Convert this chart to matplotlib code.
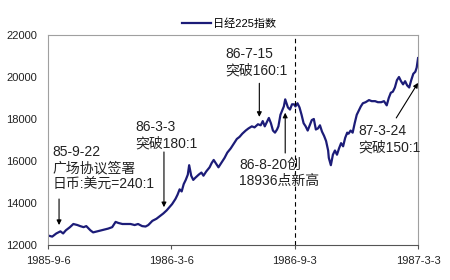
import numpy as np
import pandas as pd
import matplotlib
matplotlib.use("Agg")
import matplotlib.pyplot as plt

plt.rcParams['font.family'] = ['Liberation Sans', 'Noto Sans CJK SC', 'DejaVu Sans']

# Nikkei 225
dates = ['1985-09-06', '1985-09-12', '1985-09-18', '1985-09-24', '1985-09-28', '1985-10-02',
         '1985-10-08', '1985-10-13', '1985-10-19', '1985-10-23', '1985-10-28', '1985-11-01',
         '1985-11-07', '1985-11-11', '1985-11-17', '1985-11-23', '1985-11-29', '1985-12-03',
         '1985-12-09', '1985-12-14', '1985-12-18', '1985-12-24', '1985-12-30', '1986-01-05',
         '1986-01-11', '1986-01-16', '1986-01-22', '1986-01-27', '1986-01-31', '1986-02-06',
         '1986-02-12', '1986-02-18', '1986-02-22', '1986-02-27', '1986-03-03', '1986-03-07',
         '1986-03-12', '1986-03-15', '1986-03-18', '1986-03-21', '1986-03-24', '1986-03-27',
         '1986-03-30', '1986-04-01', '1986-04-04', '1986-04-07', '1986-04-10', '1986-04-15',
         '1986-04-19', '1986-04-22', '1986-04-26', '1986-05-01', '1986-05-04', '1986-05-07',
         '1986-05-10', '1986-05-14', '1986-05-19', '1986-05-23', '1986-05-27', '1986-06-01',
         '1986-06-05', '1986-06-10', '1986-06-14', '1986-06-18', '1986-06-23', '1986-06-27',
         '1986-07-02', '1986-07-06', '1986-07-11', '1986-07-15', '1986-07-18', '1986-07-21',
         '1986-07-24', '1986-07-27', '1986-07-30', '1986-08-02', '1986-08-05', '1986-08-08',
         '1986-08-10', '1986-08-13', '1986-08-18', '1986-08-20', '1986-08-24', '1986-08-27',
         '1986-08-30', '1986-09-02', '1986-09-04', '1986-09-07', '1986-09-10', '1986-09-13',
         '1986-09-16', '1986-09-19', '1986-09-22', '1986-09-25', '1986-09-28', '1986-10-01',
         '1986-10-04', '1986-10-07', '1986-10-10', '1986-10-13', '1986-10-16', '1986-10-19',
         '1986-10-22', '1986-10-23', '1986-10-26', '1986-10-29', '1986-11-01', '1986-11-04',
         '1986-11-07', '1986-11-10', '1986-11-13', '1986-11-16', '1986-11-19', '1986-11-21',
         '1986-11-24', '1986-11-27', '1986-11-30', '1986-12-03', '1986-12-06', '1986-12-09',
         '1986-12-12', '1986-12-16', '1986-12-21', '1986-12-25', '1986-12-30', '1987-01-03',
         '1987-01-08', '1987-01-12', '1987-01-16', '1987-01-19', '1987-01-22', '1987-01-25',
         '1987-01-28', '1987-01-31', '1987-02-03', '1987-02-06', '1987-02-09', '1987-02-12',
         '1987-02-15', '1987-02-18', '1987-02-21', '1987-02-24', '1987-02-27', '1987-03-01',
         '1987-03-03']
nikkei = [12450, 12400, 12550, 12650, 12550, 12700,
          12850, 13000, 12950, 12900, 12850, 12900,
          12700, 12600, 12650, 12700, 12750, 12780,
          12850, 13100, 13050, 13000, 13000, 13000,
          12950, 13000, 12900, 12880, 12950, 13150,
          13250, 13400, 13500, 13650, 13800, 13950,
          14200, 14400, 14650, 14550, 14900, 15100,
          15350, 15800, 15300, 15100, 15200, 15350,
          15450, 15300, 15500, 15700, 15900, 16050,
          15900, 15700, 15950, 16150, 16400, 16600,
          16800, 17050, 17150, 17300, 17450, 17550,
          17650, 17600, 17750, 17700, 17900, 17650,
          17850, 18050, 17800, 17450, 17350, 17500,
          17650, 18200, 18600, 18936, 18550, 18450,
          18700, 18700, 18600, 18750, 18550, 18200,
          17800, 17650, 17450, 17700, 17950, 18000,
          17500, 17550, 17700, 17400, 17200, 16950,
          16500, 16150, 15800, 16300, 16500, 16300,
          16600, 16850, 16700, 17100, 17350, 17300,
          17450, 17350, 17800, 18200, 18400, 18600,
          18750, 18800, 18900, 18850, 18850, 18800,
          18800, 18850, 18650, 19000, 19250, 19300,
          19500, 19850, 20000, 19800, 19650, 19800,
          19600, 19500, 19850, 20150, 20250, 20450,
          20900]

tick_dates = ['1985-09-06', '1986-03-06', '1986-09-03', '1987-03-03']
tick_labels = ['1985-9-6', '1986-3-6', '1986-9-3', '1987-3-3']
yticks = [12000, 14000, 16000, 18000, 20000, 22000]

# (text, text date, text top value, arrow date, arrow start, arrow end)
notes = [
    ('85-9-22\n广场协议签署\n日币:美元=240:1', '1985-09-12', 16750, '1985-09-22', 14190, 12950),
    ('86-3-3\n突破180:1', '1986-01-12', 17950, '1986-02-23', 16430, 13800),
    ('86-7-15\n突破160:1', '1986-05-24', 21430, '1986-07-13', 19700, 18100),
    ('86-8-20创\n18936点新高', '1986-06-13', 16150, '1986-08-20', 16380, 18300),
    ('87-3-24\n突破150:1', '1986-12-05', 17760, '1987-01-30', 18050, 19720),
]

x = pd.to_datetime(dates)

fig = plt.figure(figsize=(4.5, 2.8), dpi=100)
ax = fig.add_axes([0.107, 0.125, 0.822, 0.75])

ax.plot(x, nikkei, color='#1c1c78', lw=1.6, label='日经225指数')
ax.axvline(pd.Timestamp('1986-09-03'), color='black', lw=0.8, ls=(0, (4, 3)))

for txt, tdate, ttop, adate, a0, a1 in notes:
    ax.text(pd.Timestamp(tdate), ttop, txt, fontsize=10, va='top', ha='left',
            color='#222222', linespacing=1.2)
    d = pd.Timestamp(adate)
    if adate == '1987-01-30':
        d_end = pd.Timestamp('1987-03-03')
    else:
        d_end = d
    ax.annotate('', xy=(d_end, a1), xytext=(d, a0),
                arrowprops=dict(arrowstyle='-|>', color='black', lw=0.8,
                                mutation_scale=7, shrinkA=0, shrinkB=0))

ax.set_xlim(pd.Timestamp('1985-09-06'), pd.Timestamp('1987-03-03'))
ax.set_ylim(12000, 22000)
ax.set_yticks(yticks)
ax.set_yticklabels([str(v) for v in yticks])
ax.set_xticks(pd.to_datetime(tick_dates))
ax.set_xticklabels(tick_labels)
ax.tick_params(axis='y', length=0, pad=8, labelsize=8, labelcolor='#222222')
ax.tick_params(axis='x', length=3, pad=5, labelsize=8, labelcolor='#222222', color='#555555')

for s in ['left', 'top', 'right']:
    ax.spines[s].set_color('#a0a0a0')
ax.spines['bottom'].set_color('#555555')

fig.legend(loc='center', bbox_to_anchor=(0.51, 0.914), frameon=False, fontsize=8,
           handlelength=2.6, handletextpad=0.2)

fig.savefig('out.png', dpi=100)
